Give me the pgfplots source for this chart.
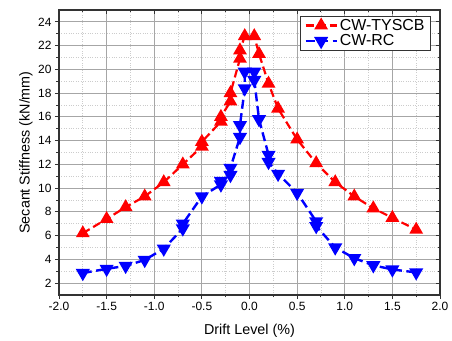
\documentclass[border=0pt]{standalone}
\usepackage{fontspec}
\setmainfont{Liberation Sans}
\usepackage{pgfplots}
\pgfplotsset{compat=1.18}
\begin{document}
\begin{tikzpicture}[x=1bp,y=1bp]
\pgfplotsset{
  common/.style={
    scale only axis, width=381bp, height=285bp,
    xmin=-2, xmax=2, ymin=1, ymax=25,
    xtick={-2,-1.5,...,2}, ytick={2,4,...,24},
    minor x tick num=1, minor y tick num=1,
    axis line style={line width=1.2bp, black!80},
    major tick length=4bp, minor tick length=2.5bp,
    every tick/.style={black!80, line width=0.9bp},
  }
}
\begin{axis}[common,
    xtick pos=left, ytick pos=left, tick align=outside,
    grid=both,
    major grid style={gray!70, line width=0.9bp},
    minor grid style={gray!40, dotted, line width=0.8bp},
    /pgf/number format/assume math mode=true,
    xticklabel style={font=\fontsize{12}{14}\selectfont, /pgf/number format/.cd, fixed, fixed zerofill, precision=1},
    yticklabel style={font=\fontsize{12}{14}\selectfont},
    xlabel={Drift Level (\%)}, ylabel={Secant Stiffness (kN/mm)},
    every axis x label/.style={at={(axis description cs:0.5,0)}, anchor=center, yshift=-36bp, font=\fontsize{14.4}{16}\selectfont},
    every axis y label/.style={at={([xshift=-33bp]axis description cs:0,0.5)}, anchor=center, rotate=90, font=\fontsize{14.4}{16}\selectfont},
    legend style={at={(1,1)}, anchor=north east, xshift=-9bp, yshift=-5.7bp,
      draw=black!80, line width=0.9bp,
      inner xsep=4bp, inner ysep=1bp, row sep=-1bp, cells={anchor=west}},
    legend image code/.code={\draw[mark repeat=2,mark phase=2,#1] plot coordinates {(0bp,0bp) (15.5bp,0bp) (31bp,0bp)};},
  ]
\addplot[red, line width=2.2bp, dash pattern=on 8bp off 4bp, mark=triangle*, mark size=5.8bp, mark options={solid}]
coordinates {
(-1.75,6.2) (-1.5,7.4) (-1.3,8.4) (-1.1,9.3) (-0.9,10.5) (-0.7,12.0) (-0.5,13.5) (-0.5,13.9)
(-0.3,15.6) (-0.3,16.0) (-0.2,17.3) (-0.2,18.0) (-0.1,20.9) (-0.1,21.6) (-0.05,22.8) (0.05,22.8)
(0.1,21.3) (0.2,18.8) (0.3,16.7) (0.5,14.1) (0.7,12.1) (0.9,10.5) (1.1,9.3) (1.3,8.3) (1.5,7.5) (1.75,6.5)
};
\addlegendentry{\fontsize{16}{17}\selectfont CW-TYSCB}
\addplot[blue, line width=2.4bp, dash pattern=on 9bp off 4.5bp, mark=triangle*, mark size=5.8bp, mark options={solid, rotate=180}]
coordinates {
(-1.75,2.85) (-1.5,3.2) (-1.3,3.45) (-1.1,3.95) (-0.9,4.9) (-0.7,6.6) (-0.7,7.0) (-0.5,9.3)
(-0.3,10.3) (-0.3,10.6) (-0.2,11.1) (-0.2,11.7) (-0.1,14.3) (-0.1,15.3) (-0.05,18.4) (-0.05,19.8)
(0.05,19.8) (0.05,19.1) (0.1,15.8) (0.2,12.8) (0.2,12.2) (0.3,11.2) (0.5,9.6) (0.7,7.2) (0.7,6.8)
(0.9,5.0) (1.1,4.1) (1.3,3.5) (1.5,3.15) (1.75,2.9)
};
\addlegendentry{\fontsize{16}{17}\selectfont CW-RC}
\end{axis}
\begin{axis}[common,
    xtick pos=right, ytick pos=right, tick align=inside,
    xticklabels={}, yticklabels={},
  ]
\end{axis}
\path (current axis.south west) ++(-59bp,-42bp) coordinate (bbsw);
\path (current axis.north east) ++(12bp,10bp) coordinate (bbne);
\path (bbsw) rectangle (bbne);
\end{tikzpicture}
\end{document}
